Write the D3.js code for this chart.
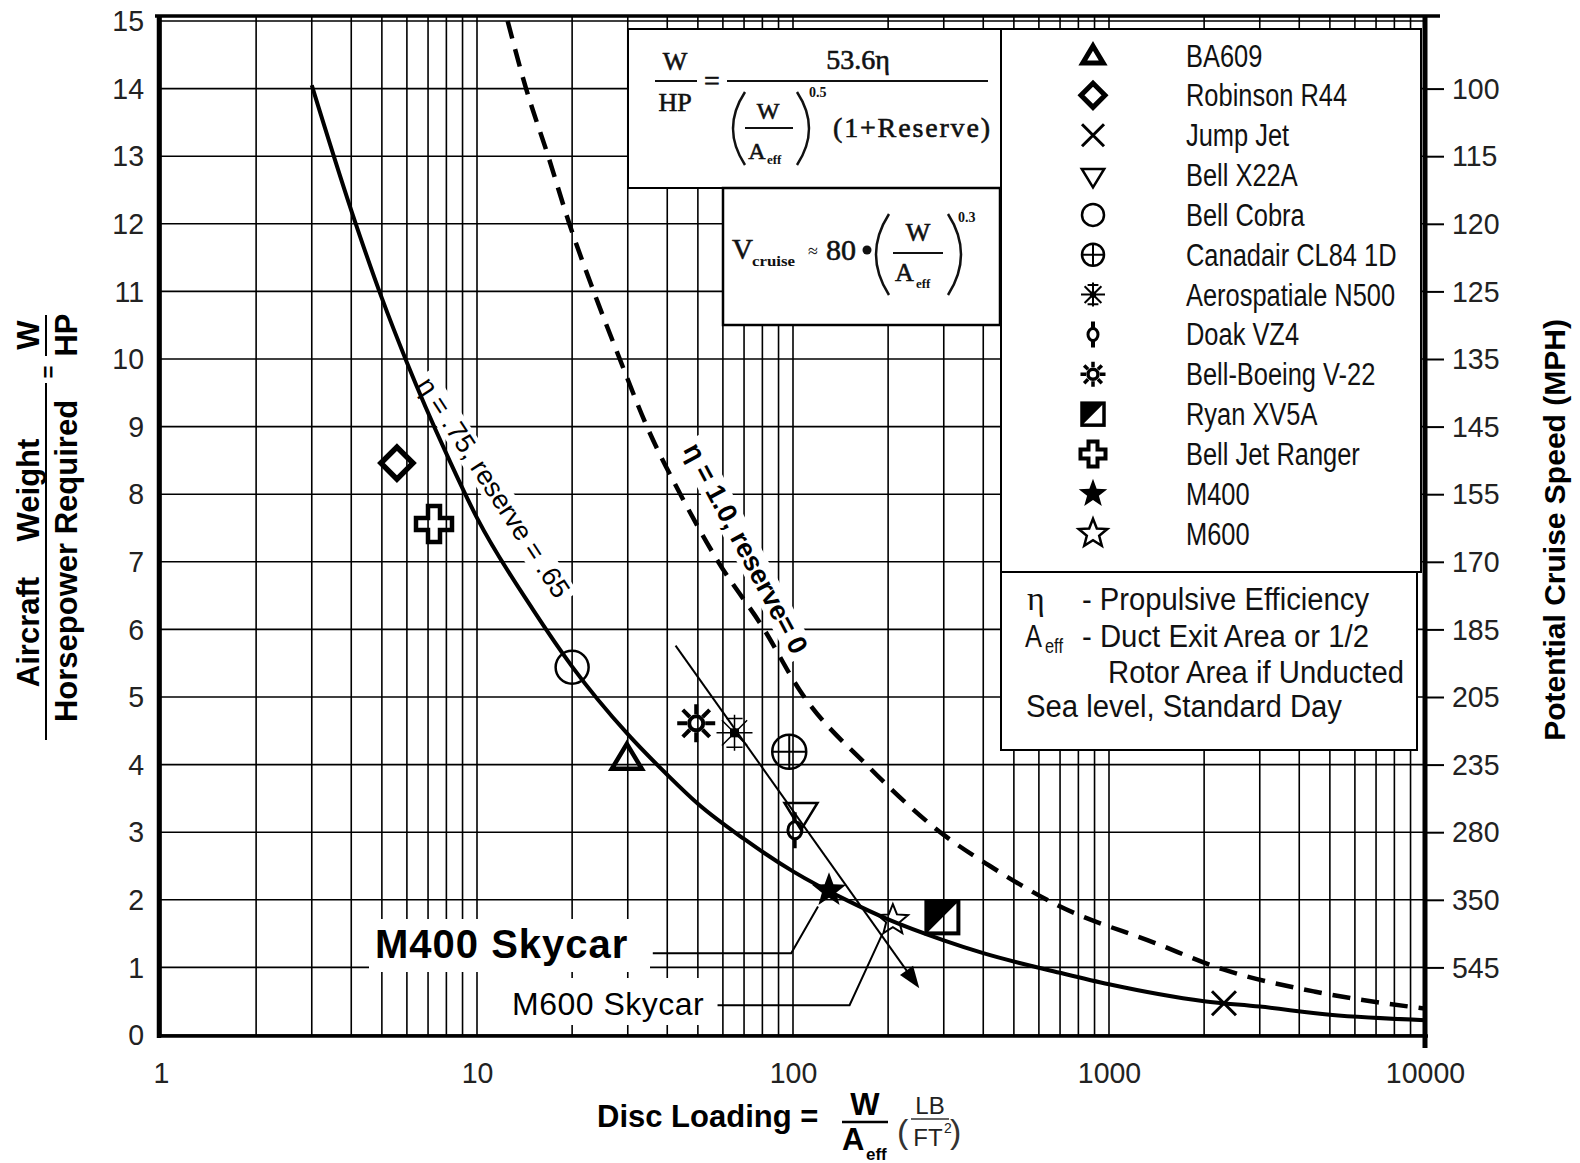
<!DOCTYPE html>
<html>
<head>
<meta charset="utf-8">
<script src="https://cdn.jsdelivr.net/npm/d3@7"></script>
<style>
  body { margin: 0; background: #fff; }
  svg { display: block; }
</style>
</head>
<body>
<div id="chart"></div>
<script>
// ---- data ----
const aircraft = ["BA609", "Robinson R44", "Jump Jet", "Bell X22A", "Bell Cobra", "Canadair CL84 1D",
  "Aerospatiale N500", "Doak VZ4", "Bell-Boeing V-22", "Ryan XV5A", "Bell Jet Ranger", "M400", "M600"];
const discLoading = [29.8, 5.58, 2311, 106, 20, 97.3, 65.3, 101.4, 49.4, 297, 7.31, 130, 207];
const weightPerHp = [4.10, 8.46, 0.47, 3.30, 5.44, 4.19, 4.47, 3.03, 4.61, 1.74, 7.56, 2.14, 1.70];
const symbolNames = ["triUp", "diamond", "ex", "triDown", "circle", "circlePlus",
  "burst", "doak", "sun", "halfSquare", "cross", "starFill", "starOpen"];

// eta = .75, reserve = .65  (solid)
const solidDL  = [3, 4, 5, 6, 8, 10, 15, 20, 30, 40, 50, 70, 100, 150, 200, 300, 400, 700, 1000, 2000, 3000, 5000, 10000];
const solidWHP = [14.05, 12.2, 10.9, 9.95, 8.6, 7.65, 6.3, 5.45, 4.45, 3.85, 3.42, 2.9, 2.42, 1.98, 1.71, 1.4, 1.21, 0.92, 0.75, 0.5, 0.42, 0.3, 0.22];
// eta = 1.0, reserve = 0  (dashed)
const dashDL  = [12.5, 14.3, 16.8, 19.6, 23.4, 28.3, 34.5, 44, 58, 81, 105, 175, 300, 420, 680, 1400, 2300, 4500, 10000];
const dashWHP = [15, 14, 13, 12, 11, 10, 9, 8, 7, 6, 5.1, 3.95, 2.96, 2.5, 1.93, 1.36, 0.97, 0.64, 0.39];

// thin trend arrow and the two call-out leaders
const arrowDL = [42.5, 251];
const arrowWHP = [5.76, 0.69];
const m400LeaderDL = [36, 98.7, 120];
const m400LeaderWHP = [1.21, 1.21, 1.90];
const m600LeaderDL = [57.7, 151, 192];
const m600LeaderWHP = [0.44, 0.44, 1.50];

const xTicks = [1, 10, 100, 1000, 10000];
const yTicks = [0, 1, 2, 3, 4, 5, 6, 7, 8, 9, 10, 11, 12, 13, 14, 15];
const speedAt = [14, 13, 12, 11, 10, 9, 8, 7, 6, 5, 4, 3, 2, 1];
const speedTicks = [100, 115, 120, 125, 135, 145, 155, 170, 185, 205, 235, 280, 350, 545];

// ---- setup ----
const W = 1580, H = 1163;
const SANS = "'Liberation Sans',Arial,sans-serif";
const SERIF = "'Liberation Serif','Times New Roman',serif";

// squeeze a text to a narrow face (no Arial Narrow here)
function narrow(sel, f) {
  sel.each(function () {
    const w = this.getComputedTextLength();
    d3.select(this).attr("textLength", w * (f || 0.82)).attr("lengthAdjust", "spacingAndGlyphs");
  });
  return sel;
}

const x = d3.scaleLog().domain([1, 10000]).range([161, 1425]);
const y = d3.scaleLinear().domain([0, 15]).range([1035, 21]);

const svg = d3.select("#chart").append("svg")
  .attr("width", W).attr("height", H)
  .style("background", "#fff");

/* grid */
const grid = svg.append("g").attr("stroke", "#000").attr("stroke-width", 1.6);
grid.selectAll(".vx").data(x.ticks()).enter().append("line")
  .attr("x1", d => x(d)).attr("x2", d => x(d))
  .attr("y1", 16).attr("y2", y(0));
grid.selectAll(".hy").data(yTicks).enter().append("line")
  .attr("x1", x(1)).attr("x2", x(10000))
  .attr("y1", d => y(d)).attr("y2", d => y(d));

const bgLayer = svg.append("g").attr("fill", "#fff");
const curves = svg.append("g");
const labels = svg.append("g");

/* curves */
const line = d3.line().x(d => x(d[0])).y(d => y(d[1])).curve(d3.curveMonotoneX);
curves.append("path")
  .attr("d", line(d3.zip(solidDL, solidWHP)))
  .attr("fill", "none").attr("stroke", "#000").attr("stroke-width", 4);
curves.append("path")
  .attr("d", line(d3.zip(dashDL, dashWHP)))
  .attr("fill", "none").attr("stroke", "#000").attr("stroke-width", 4.5)
  .attr("stroke-dasharray", "18,11");

/* arrow */
const ax0 = x(arrowDL[0]), ay0 = y(arrowWHP[0]), ax1 = x(arrowDL[1]), ay1 = y(arrowWHP[1]);
const ang = Math.atan2(ay1 - ay0, ax1 - ax0);
curves.append("line")
  .attr("x1", ax0).attr("y1", ay0)
  .attr("x2", ax1 - 16 * Math.cos(ang)).attr("y2", ay1 - 16 * Math.sin(ang))
  .attr("stroke", "#000").attr("stroke-width", 2);
curves.append("path")
  .attr("d", "M0,0L-22,-8L-22,8Z")
  .attr("transform", `translate(${ax1},${ay1}) rotate(${ang * 180 / Math.PI})`)
  .attr("fill", "#000");

/* leaders */
const plain = d3.line().x(d => x(d[0])).y(d => y(d[1]));
curves.append("path").attr("d", plain(d3.zip(m400LeaderDL, m400LeaderWHP)))
  .attr("fill", "none").attr("stroke", "#000").attr("stroke-width", 2);
curves.append("path").attr("d", plain(d3.zip(m600LeaderDL, m600LeaderWHP)))
  .attr("fill", "none").attr("stroke", "#000").attr("stroke-width", 2);

/* call-out texts with white backing */
bgLayer.append("rect").attr("x", 369).attr("y", 919).attr("width", 281).attr("height", 53);
bgLayer.append("rect").attr("x", 505).attr("y", 978).attr("width", 209).attr("height", 47);
labels.append("text").attr("x", 375).attr("y", 958)
  .style("font", `bold 40px ${SANS}`).style("letter-spacing", "1px").text("M400 Skycar");
labels.append("text").attr("x", 512).attr("y", 1015)
  .style("font", `32px ${SANS}`).style("letter-spacing", "0.5px").text("M600 Skycar");

function curveLabel(str, dl, v, angle, font) {
  const tr = `translate(${x(dl)},${y(v)}) rotate(${angle})`;
  const t = labels.append("text").attr("transform", tr)
    .attr("text-anchor", "middle").attr("dy", "0.35em")
    .style("font", font).text(str);
  const b = t.node().getBBox();
  bgLayer.append("rect").attr("transform", tr)
    .attr("x", b.x - 5).attr("y", b.y + 1).attr("width", b.width + 10).attr("height", b.height - 2);
}
curveLabel("\u03b7 = .75, reserve = .65", 11.3, 8.1, 57, `27px ${SANS}`);
curveLabel("\u03b7 = 1.0, reserve= 0", 71, 7.2, 62, `bold 27px ${SANS}`);

/* markers */
function starPath(R, r) {
  const p = [];
  for (let i = 0; i < 10; i++) {
    const a = -Math.PI / 2 + i * Math.PI / 5, rad = i % 2 ? r : R;
    p.push([rad * Math.cos(a), rad * Math.sin(a)]);
  }
  return "M" + p.join("L") + "Z";
}
function drawSymbol(g, name, big) {
  const st = (sel, w) => sel.attr("fill", "none").attr("stroke", "#000").attr("stroke-width", w);
  if (name === "triUp") {
    const s = big ? 1 : 0.68;
    st(g.append("path").attr("d", `M0,${-14 * s}L${15 * s},${11 * s}L${-15 * s},${11 * s}Z`), big ? 4.5 : 5);
  } else if (name === "diamond") {
    const h = big ? 16 : 12;
    st(g.append("path").attr("d", `M0,${-h}L${h},0L0,${h}L${-h},0Z`), big ? 5.5 : 5);
  } else if (name === "ex") {
    const h = big ? 12 : 11;
    st(g.append("path").attr("d", `M${-h},${-h}L${h},${h}M${h},${-h}L${-h},${h}`), 3);
  } else if (name === "triDown") {
    const s = big ? 1 : 0.68;
    st(g.append("path").attr("d", `M${-16.5 * s},${-9 * s}L${16.5 * s},${-9 * s}L0,${18 * s}Z`), 2.5);
  } else if (name === "circle") {
    st(g.append("circle").attr("r", big ? 16.5 : 11), 2.5);
  } else if (name === "circlePlus") {
    const r = big ? 17 : 11;
    st(g.append("circle").attr("r", r), 2.5);
    st(g.append("path").attr("d", `M${-r},0H${r}M0,${-r}V${r}`), 2);
  } else if (name === "burst") {
    const R = big ? 18 : 12, w = big ? 1.5 : 2;
    st(g.append("path").attr("d",
      `M${-R},0H${R}M0,${-R}V${R}M${-R * .7},${-R * .7}L${R * .7},${R * .7}M${R * .7},${-R * .7}L${-R * .7},${R * .7}` +
      `M${-R * .45},${-R * .8}H${R * .45}M${-R * .45},${R * .8}H${R * .45}`), w);
    g.append("rect").attr("x", -R * .25).attr("y", -R * .25).attr("width", R * .5).attr("height", R * .5).attr("fill", "#000");
  } else if (name === "doak") {
    const rx = big ? 7 : 5, ry = big ? 8.5 : 6, L = big ? 18 : 13;
    st(g.append("ellipse").attr("rx", rx).attr("ry", ry), 3);
    st(g.append("path").attr("d", `M0,${-L}V${-ry}M0,${ry}V${L}`), big ? 3.5 : 4);
  } else if (name === "sun") {
    const r = big ? 7 : 5, r1 = big ? 9 : 7, r2 = big ? 19 : 12.5, w = big ? 4 : 3.5;
    st(g.append("circle").attr("r", r), w);
    let d = "";
    for (let i = 0; i < 8; i++) {
      const a = i * Math.PI / 4;
      d += `M${r1 * Math.cos(a)},${r1 * Math.sin(a)}L${r2 * Math.cos(a)},${r2 * Math.sin(a)}`;
    }
    st(g.append("path").attr("d", d), w);
  } else if (name === "halfSquare") {
    const h = big ? 16 : 11;
    g.append("path").attr("d", `M${-h},${-h}L${h},${-h}L${-h},${h}Z`).attr("fill", "#000");
    st(g.append("rect").attr("x", -h).attr("y", -h).attr("width", 2 * h).attr("height", 2 * h), big ? 4 : 3.5);
  } else if (name === "cross") {
    const L = big ? 18 : 12.5, a = big ? 6 : 4.5;
    st(g.append("path").attr("d",
      `M${-a},${-L}H${a}V${-a}H${L}V${a}H${a}V${L}H${-a}V${a}H${-L}V${-a}H${-a}Z`), big ? 4.5 : 4);
  } else if (name === "starFill") {
    g.append("path").attr("d", starPath(big ? 18 : 15, big ? 7.5 : 6.2)).attr("fill", "#000");
  } else if (name === "starOpen") {
    st(g.append("path").attr("d", starPath(big ? 16 : 15, big ? 7 : 6.5)), big ? 2 : 2.5);
  }
}

const markers = svg.append("g");
aircraft.forEach((name, i) => {
  const g = markers.append("g")
    .attr("transform", `translate(${x(discLoading[i])},${y(weightPerHp[i])})`);
  drawSymbol(g, symbolNames[i], true);
});

/* formula boxes */
const boxes = svg.append("g");
function box(x0, y0, x1, y1, w) {
  boxes.append("rect").attr("x", x0).attr("y", y0).attr("width", x1 - x0).attr("height", y1 - y0)
    .attr("fill", "#fff").attr("stroke", "#000").attr("stroke-width", w || 2);
}
box(628, 29, 1002, 188);
box(723, 188, 1000, 325, 2.5);
box(1001, 29, 1421, 572);
box(1001, 572, 1417, 750);

function txt(str, px, py, font, anchor) {
  return boxes.append("text").attr("x", px).attr("y", py)
    .attr("text-anchor", anchor || "start").style("font", font).style("fill", "#111").text(str);
}
// heavier serif, the scan renders Times quite dark
function stxt(str, px, py, size, anchor) {
  return txt(str, px, py, `${size}px ${SERIF}`, anchor)
    .attr("stroke", "#111").attr("stroke-width", 0.6);
}
function hline(x0, x1, yy, w) {
  boxes.append("line").attr("x1", x0).attr("x2", x1).attr("y1", yy).attr("y2", yy)
    .attr("stroke", "#111").attr("stroke-width", w || 2);
}
function paren(px, y0, y1, bulge) {
  boxes.append("path").attr("d", `M${px},${y0}Q${px + bulge},${(y0 + y1) / 2} ${px},${y1}`)
    .attr("fill", "none").attr("stroke", "#111").attr("stroke-width", 2.5);
}
// W/HP = 53.6eta / ((W/Aeff)^0.5 (1+Reserve))
stxt("W", 675, 70, 26, "middle");
hline(655, 697, 81);
stxt("HP", 675, 111, 26, "middle");
stxt("=", 712, 90, 28, "middle");
hline(727, 988, 81);
stxt("53.6\u03b7", 858, 69, 28, "middle");
paren(745, 92, 165, -24);
stxt("W", 768, 119, 24, "middle");
hline(745, 793, 128, 1.8);
stxt("A", 757, 159, 24, "middle");
txt("eff", 767, 164, `bold 13px ${SERIF}`);
paren(797, 92, 165, 24);
txt("0.5", 809, 97, `bold 14px ${SERIF}`);
stxt("(1+Reserve)", 833, 137, 28).attr("textLength", 157);
// Vcruise ~ 80 (W/Aeff)^0.3
stxt("V", 732, 259, 29);
txt("cruise", 752, 266, `bold 14px ${SERIF}`).attr("textLength", 43).attr("lengthAdjust", "spacingAndGlyphs");
txt("\u2248", 813, 257, `18px ${SERIF}`, "middle");
stxt("80", 826, 260, 30);
boxes.append("circle").attr("cx", 867).attr("cy", 250).attr("r", 4.5).attr("fill", "#111");
paren(889, 214, 295, -26);
stxt("W", 918, 241, 26, "middle");
hline(893, 943, 253, 1.8);
stxt("A", 895, 281, 26);
txt("eff", 916, 288, `bold 13px ${SERIF}`);
paren(948, 214, 295, 26);
txt("0.3", 958, 222, `bold 14px ${SERIF}`);

/* legend */
const legend = svg.append("g");
aircraft.forEach((name, i) => {
  const ry = 55.5 + i * 39.85;
  drawSymbol(legend.append("g").attr("transform", `translate(1093,${ry})`), symbolNames[i], false);
  legend.append("text").attr("x", 1186).attr("y", ry + 11)
    .style("font", `31px ${SANS}`).style("fill", "#111").text(name)
    .call(narrow);
});

/* notes */
const noteFont = `31px ${SANS}`;
txt("\u03b7", 1027, 610, `34px ${SERIF}`);
txt("- Propulsive Efficiency", 1082, 610, noteFont).attr("textLength", 287).attr("lengthAdjust", "spacingAndGlyphs");
txt("A", 1025, 647, noteFont).call(narrow);
txt("eff", 1045, 653, `20px ${SANS}`).call(narrow);
txt("- Duct Exit Area or 1/2", 1082, 647, noteFont).attr("textLength", 287).attr("lengthAdjust", "spacingAndGlyphs");
txt("Rotor Area if Unducted", 1108, 683, noteFont).attr("textLength", 296).attr("lengthAdjust", "spacingAndGlyphs");
txt("Sea level, Standard Day", 1026, 717, noteFont).attr("textLength", 316).attr("lengthAdjust", "spacingAndGlyphs");

/* frame */
const frame = svg.append("g").attr("stroke", "#000");
frame.append("line").attr("x1", 155).attr("x2", 1440).attr("y1", 16).attr("y2", 16).attr("stroke-width", 3.5);
frame.append("line").attr("x1", 159).attr("x2", 159).attr("y1", 15).attr("y2", 1038).attr("stroke-width", 4.5);
frame.append("line").attr("x1", 157).attr("x2", 1428).attr("y1", 1036).attr("y2", 1036).attr("stroke-width", 3.5);
frame.append("line").attr("x1", 1425).attr("x2", 1425).attr("y1", 15).attr("y2", 1048).attr("stroke-width", 5);

/* axes */
const leftAxis = svg.append("g").attr("transform", `translate(${x(1)},0)`)
  .call(d3.axisLeft(y).tickValues(yTicks).tickSize(0).tickPadding(17));
const bottomAxis = svg.append("g").attr("transform", `translate(0,${y(0)})`)
  .call(d3.axisBottom(x).tickValues(xTicks).tickFormat(d3.format("d")).tickSize(0).tickPadding(27));
const rightAxis = svg.append("g").attr("transform", `translate(${x(10000)},0)`)
  .call(d3.axisRight(y).tickValues(speedAt).tickFormat((d, i) => speedTicks[i]).tickSize(19).tickPadding(8));
[leftAxis, bottomAxis, rightAxis].forEach(a => {
  a.select(".domain").remove();
  a.selectAll("text").style("font", `30px ${SANS}`).style("fill", "#222").call(narrow, 0.95);
});
rightAxis.selectAll(".tick line").attr("stroke", "#000").attr("stroke-width", 2);

/* axis titles */
const titles = svg.append("g").style("fill", "#000");
function rot(str, px, py, font, anchor) {
  return titles.append("text").attr("transform", `translate(${px},${py}) rotate(-90)`)
    .attr("text-anchor", anchor || "middle").style("font", font).text(str);
}
const bold32 = `bold 31px ${SANS}`;
rot("Aircraft", 39, 632, bold32);
rot("Weight", 39, 490, bold32);
titles.append("line").attr("x1", 46).attr("x2", 46).attr("y1", 383).attr("y2", 740)
  .attr("stroke", "#000").attr("stroke-width", 2);
rot("Horsepower Required", 77, 561, bold32);
rot("=", 56, 372, `bold 22px ${SANS}`);
rot("W", 39, 335, bold32);
titles.append("line").attr("x1", 46).attr("x2", 46).attr("y1", 315).attr("y2", 356)
  .attr("stroke", "#000").attr("stroke-width", 2);
rot("HP", 77, 335, bold32);
rot("Potential Cruise Speed (MPH)", 1565, 530, `bold 30px ${SANS}`);

// Disc Loading = W/Aeff (LB/FT^2)
titles.append("text").attr("x", 597).attr("y", 1127).style("font", bold32).text("Disc Loading =");
titles.append("text").attr("x", 865).attr("y", 1115).attr("text-anchor", "middle").style("font", bold32).text("W");
titles.append("line").attr("x1", 842).attr("x2", 888).attr("y1", 1122).attr("y2", 1122)
  .attr("stroke", "#000").attr("stroke-width", 2.5);
titles.append("text").attr("x", 842).attr("y", 1150).style("font", bold32).text("A");
titles.append("text").attr("x", 866).attr("y", 1160).style("font", `bold 17px ${SANS}`).text("eff");
titles.append("text").attr("x", 897).attr("y", 1143).style("font", `34px ${SANS}`).style("fill", "#333").text("(");
titles.append("text").attr("x", 930).attr("y", 1114).attr("text-anchor", "middle").style("font", `24px ${SANS}`).style("fill", "#222").text("LB");
titles.append("line").attr("x1", 911).attr("x2", 949).attr("y1", 1119).attr("y2", 1119)
  .attr("stroke", "#333").attr("stroke-width", 1.5);
titles.append("text").attr("x", 928).attr("y", 1146).attr("text-anchor", "middle").style("font", `24px ${SANS}`).style("fill", "#222").text("FT");
titles.append("text").attr("x", 944).attr("y", 1133).style("font", `14px ${SANS}`).style("fill", "#222").text("2");
titles.append("text").attr("x", 950).attr("y", 1143).style("font", `34px ${SANS}`).style("fill", "#333").text(")");
</script>
</body>
</html>
